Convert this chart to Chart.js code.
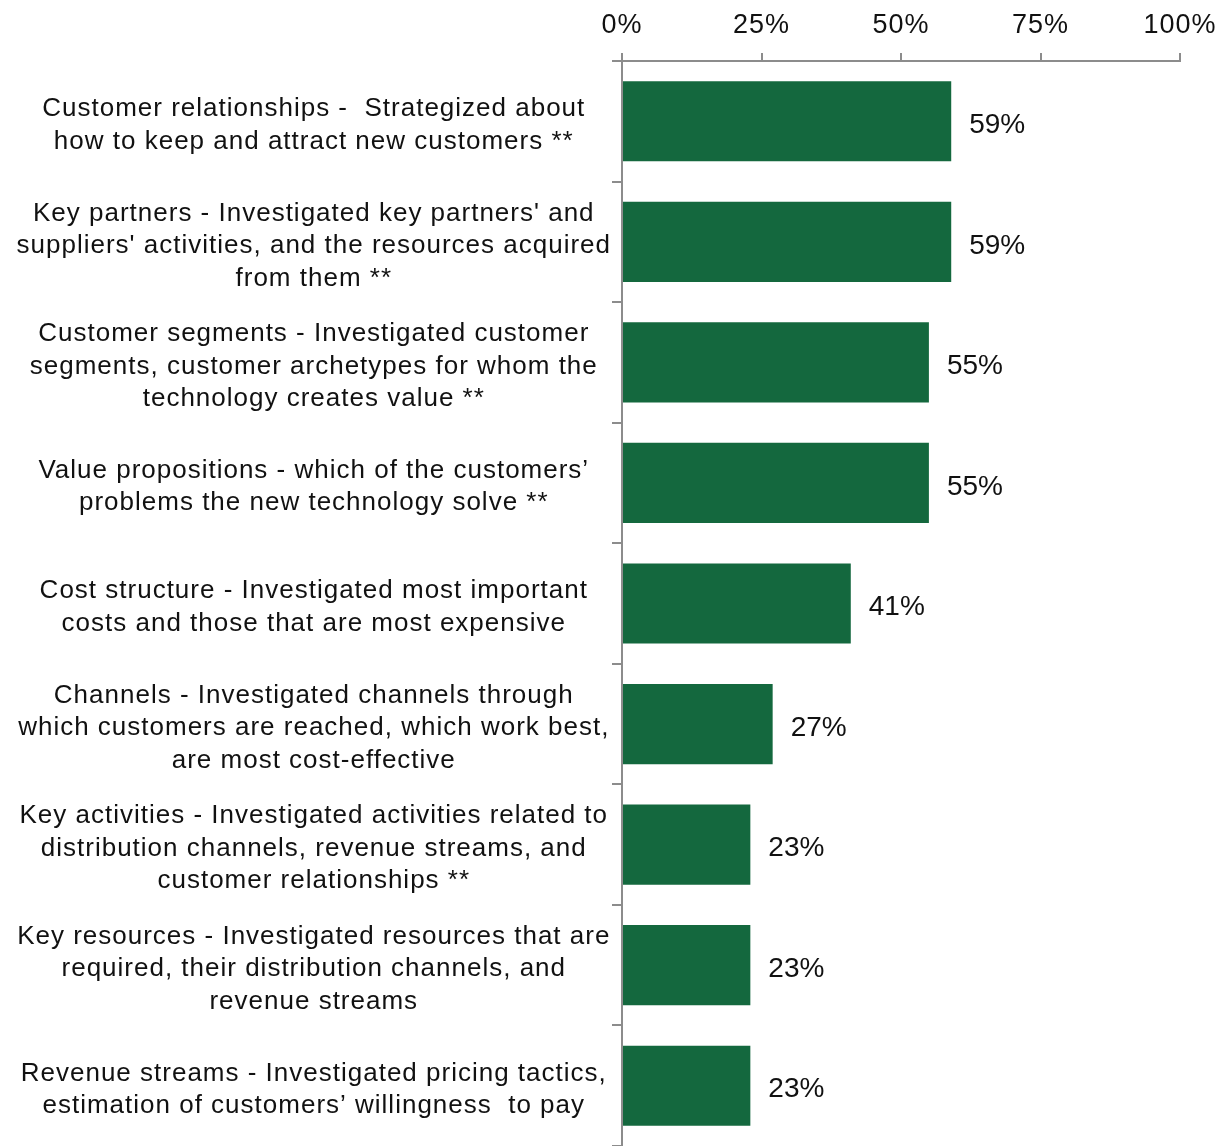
<!DOCTYPE html>
<html>
<head>
<meta charset="utf-8">
<script src="https://cdn.jsdelivr.net/npm/chart.js@4/dist/chart.umd.min.js"></script>
<style>
  html, body { margin: 0; padding: 0; background: #ffffff; }
  #wrap { width: 1219px; height: 1146px; position: relative; }
</style>
</head>
<body>
<div id="wrap"><canvas id="chart"></canvas></div>
<script>
// Business model canvas elements investigated (share of respondents)
const categories = [
  ["Customer relationships -  Strategized about", "how to keep and attract new customers **"],
  ["Key partners - Investigated key partners' and", "suppliers' activities, and the resources acquired", "from them **"],
  ["Customer segments - Investigated customer", "segments, customer archetypes for whom the", "technology creates value **"],
  ["Value propositions - which of the customers\u2019", "problems the new technology solve **"],
  ["Cost structure - Investigated most important", "costs and those that are most expensive"],
  ["Channels - Investigated channels through", "which customers are reached, which work best,", "are most cost-effective"],
  ["Key activities - Investigated activities related to", "distribution channels, revenue streams, and", "customer relationships **"],
  ["Key resources - Investigated resources that are", "required, their distribution channels, and", "revenue streams"],
  ["Revenue streams - Investigated pricing tactics,", "estimation of customers\u2019 willingness  to pay"]
];
const shares = [59, 59, 55, 55, 41, 27, 23, 23, 23];
const xTicks = [0, 25, 50, 75, 100];

const FONT = "'Liberation Sans', Arial, sans-serif";
const TEXT = '#111111';
const AXIS_GREY = '#8c8c8c';
const BAR_GREEN = '#14683e';
const SPACING = '1px';

// slightly open letter spacing for axis text, set before layout and drawing
const textSpacing = {
  id: 'textSpacing',
  beforeUpdate(chart) { chart.ctx.letterSpacing = SPACING; },
  beforeDraw(chart) { chart.ctx.letterSpacing = SPACING; }
};

// value labels drawn just past the end of each bar
const valueLabels = {
  id: 'valueLabels',
  afterDatasetsDraw(chart) {
    const ctx = chart.ctx;
    const meta = chart.getDatasetMeta(0);
    ctx.save();
    ctx.letterSpacing = '0px';
    ctx.font = '28px ' + FONT;
    ctx.fillStyle = TEXT;
    ctx.textAlign = 'left';
    ctx.textBaseline = 'middle';
    meta.data.forEach((bar, i) => {
      ctx.fillText(shares[i] + '%', bar.x + 18, bar.y + 4);
    });
    ctx.restore();
  }
};

new Chart(document.getElementById('chart'), {
  type: 'bar',
  data: {
    labels: categories,
    datasets: [{
      data: shares,
      backgroundColor: BAR_GREEN,
      borderWidth: 0,
      barPercentage: 0.665,
      categoryPercentage: 1.0
    }]
  },
  options: {
    indexAxis: 'y',
    responsive: true,
    maintainAspectRatio: false,
    animation: false,
    layout: { padding: { top: 0, right: 39, bottom: 0, left: 0 } },
    plugins: {
      legend: { display: false },
      tooltip: { enabled: false }
    },
    scales: {
      x: {
        position: 'top',
        min: 0,
        max: 100,
        afterBuildTicks(scale) {
          scale.ticks = xTicks.map(v => ({ value: v }));
        },
        afterFit(scale) {
          scale.height = 61;
          scale.paddingLeft = 0;
          scale.paddingRight = 0;
        },
        ticks: {
          callback: v => v + '%',
          font: { family: FONT, size: 27 },
          color: TEXT,
          padding: 11,
          maxRotation: 0
        },
        grid: {
          drawOnChartArea: false,
          color: AXIS_GREY,
          lineWidth: 2,
          tickLength: 8
        },
        border: { color: AXIS_GREY, width: 2 }
      },
      y: {
        afterFit(scale) {
          scale.width = 622;
          scale.paddingTop = 0;
          scale.paddingBottom = 0;
        },
        ticks: {
          font: { family: FONT, size: 26, lineHeight: 1.25 },
          color: TEXT,
          crossAlign: 'center',
          padding: 1,
          labelOffset: 4,
          autoSkip: false
        },
        grid: {
          offset: true,
          drawOnChartArea: false,
          color: AXIS_GREY,
          lineWidth: 2,
          tickLength: 10
        },
        border: { color: AXIS_GREY, width: 2 }
      }
    }
  },
  plugins: [textSpacing, valueLabels]
});
</script>
</body>
</html>
